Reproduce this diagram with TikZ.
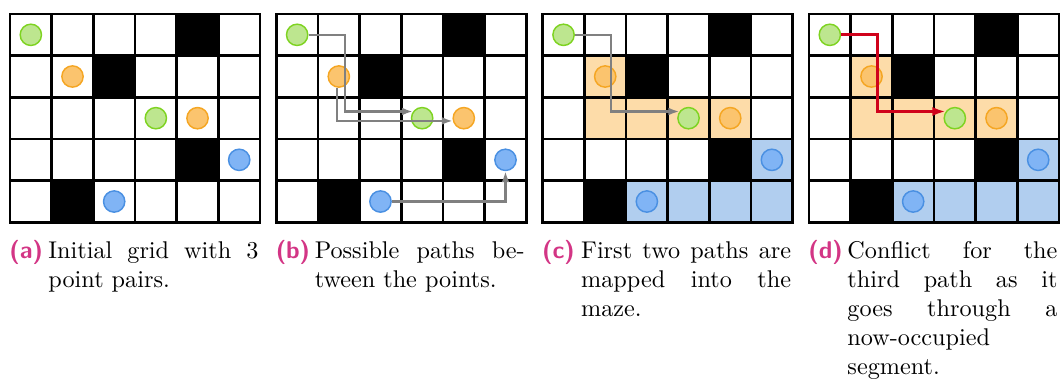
\documentclass[tikz,border=0pt]{standalone}
\usepackage{tikz}
\usepackage{xcolor}
\definecolor{mazeGreen}{HTML}{BDE68F}
\definecolor{mazeGreenEdge}{HTML}{7ED321}
\definecolor{mazeOrange}{HTML}{FBC46E}
\definecolor{mazeOrangeEdge}{HTML}{F5A623}
\definecolor{mazeBlue}{HTML}{80B4F5}
\definecolor{mazeBlueEdge}{HTML}{4A90E2}
\definecolor{usedOrange}{HTML}{FDDCA9}
\definecolor{usedBlue}{HTML}{B1CEEF}
\definecolor{pathGray}{HTML}{808080}
\definecolor{pathConflict}{HTML}{D0021B}
\definecolor{capLabel}{HTML}{D33585}
\usetikzlibrary{arrows.meta}

\tikzset{
  dot/.style={circle, draw, line width=0.6pt, minimum size=8.8pt, inner sep=0pt},
  green dot/.style={dot, fill=mazeGreen, draw=mazeGreenEdge},
  orange dot/.style={dot, fill=mazeOrange, draw=mazeOrangeEdge},
  blue dot/.style={dot, fill=mazeBlue, draw=mazeBlueEdge},
  maze line/.style={line width=1.1pt, line cap=rect},
  route/.style={draw=pathGray, line width=1pt, -{Latex[length=4.5pt,width=3.2pt]}},
  conflict route/.style={draw=pathConflict, line width=1.3pt, -{Latex[length=5.5pt,width=3.8pt]}},
  cap label/.style={anchor=north west, inner sep=0pt, font=\sffamily\bfseries, text=capLabel},
  cap text/.style={anchor=north west, inner sep=0pt, text width=86.7pt, align=justify,
    font={\tolerance=10000\hbadness=10000\parindent=0pt}},
}

\begin{document}
\begin{tikzpicture}[x=0.413pt, y=-0.413pt]
  \useasboundingbox (0,0) rectangle (1060,381);

  % occupied cells after mapping
  \foreach \ox in {542.7, 809}{
    \begin{scope}[shift={(\ox,14)}, x=17.21pt, y=-17.21pt]
      \foreach \c/\r in {1/1, 1/2, 2/2, 3/2, 4/2}
        \fill[usedOrange] (\c,\r) rectangle ++(1,1);
      \foreach \c/\r in {5/3, 2/4, 3/4, 4/4, 5/4}
        \fill[usedBlue] (\c,\r) rectangle ++(1,1);
    \end{scope}
  }

  % maze, walls and point pairs
  \foreach \ox/\pn in {10/a, 276.3/b, 542.7/c, 809/d}{
    \begin{scope}[shift={(\ox,14)}, x=17.21pt, y=-17.21pt]
      \foreach \c/\r in {4/0, 2/1, 4/3, 1/4}
        \fill[black] (\c,\r) rectangle ++(1,1);
      \foreach \i in {0,...,6}
        \draw[maze line] (\i,0) -- (\i,5);
      \foreach \j in {0,...,5}
        \draw[maze line] (0,\j) -- (6,\j);
      \node[green dot] (\pn-g1) at (0.5,0.5) {};
      \node[green dot] (\pn-g2) at (3.5,2.5) {};
      \node[orange dot] (\pn-o1) at (1.5,1.5) {};
      \node[orange dot] (\pn-o2) at (4.5,2.5) {};
      \node[blue dot] (\pn-b1) at (2.5,4.5) {};
      \node[blue dot] (\pn-b2) at (5.5,3.5) {};
      \coordinate (\pn-gturn) at (1.644,1.5);
    \end{scope}
  }

  % possible paths
  \draw[route] (b-g1.east) -| (b-gturn) |- (b-g2.144);
  \draw[route] (b-o1.260) |- (b-o2.194);
  \draw[route] (b-b1.east) -| (b-b2.south);
  \draw[route] (c-g1.east) -| (c-gturn) |- (c-g2.144);
  \draw[conflict route] (d-g1.east) -| (d-gturn) |- (d-g2.144);

  % captions
  \node[cap label] (a-lbl) at (9,237.7) {\strut(a)};
  \node[cap text] (a-cap) at (48,237.7) {\strut Initial grid with 3\linebreak point pairs.};
  \node[cap label] (b-lbl) at (275.3,237.7) {\strut(b)};
  \node[cap text] (b-cap) at (314.3,237.7) {\strut Possible paths be-\linebreak tween the points.};
  \node[cap label] (c-lbl) at (541.7,237.7) {\strut(c)};
  \node[cap text] (c-cap) at (580.7,237.7) {\strut First two paths are\linebreak mapped into the\linebreak maze.};
  \node[cap label] (d-lbl) at (808,237.7) {\strut(d)};
  \node[cap text] (d-cap) at (847,237.7) {\strut Conflict for the\linebreak third path as it\linebreak goes through a\linebreak now-occupied\linebreak segment.};
\end{tikzpicture}
\end{document}
